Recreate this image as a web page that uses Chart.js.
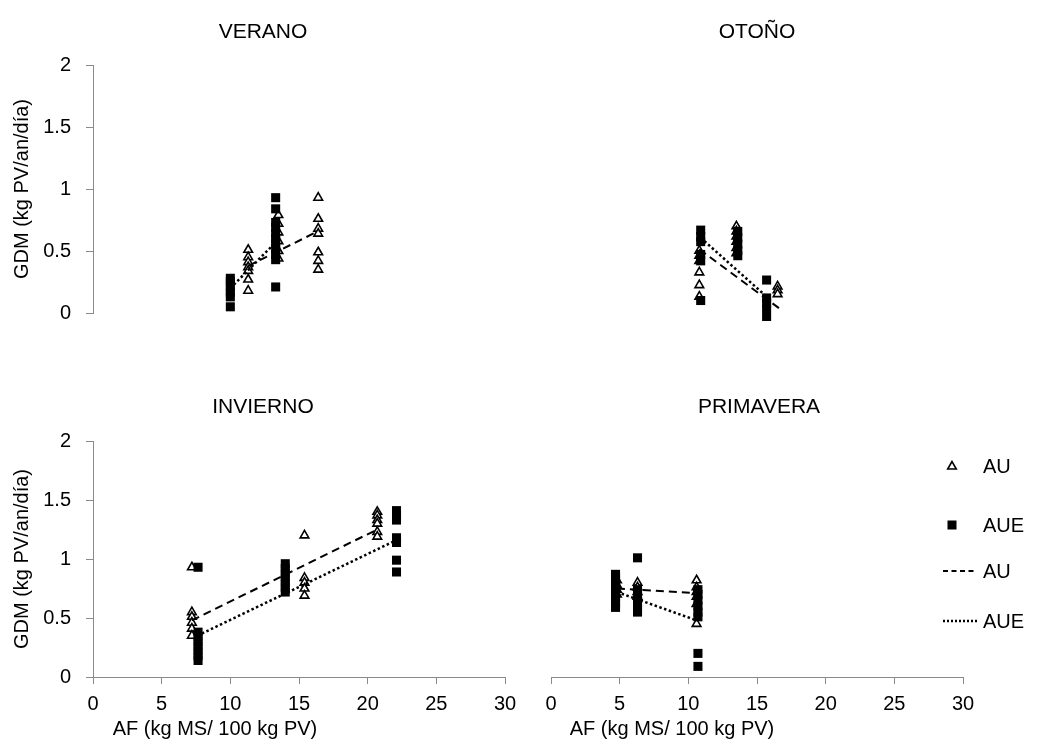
<!DOCTYPE html>
<html lang="es">
<head>
<meta charset="UTF-8">
<title>GDM vs AF por estación</title>
<style>
  body { margin: 0; background: #fff; }
  #wrap { position: relative; width: 1062px; height: 740px; overflow: hidden;
          font-family: 'Liberation Sans', Arial, sans-serif; color: #000; }
  #wrap canvas { position: absolute; }
  .lbl { position: absolute; font-size: 20px; white-space: nowrap; transform: translate(-50%, -50%); line-height: 1; }
  .ttl { font-size: 21px; }
  .leg { position: absolute; font-size: 20px; line-height: 1; transform: translateY(-50%); }
  .legsym { position: absolute; }
</style>
</head>
<body>
<div id="wrap">
  <canvas id="cVerano" width="530" height="340" style="left:0;top:0"></canvas>
  <canvas id="cOtono" width="532" height="340" style="left:530px;top:0"></canvas>
  <canvas id="cInvierno" width="530" height="400" style="left:0;top:340px"></canvas>
  <canvas id="cPrimavera" width="532" height="400" style="left:530px;top:340px"></canvas>

  <div class="lbl ttl" style="left:263px;top:30px">VERANO</div>
  <div class="lbl ttl" style="left:757px;top:30px">OTOÑO</div>
  <div class="lbl ttl" style="left:263px;top:405px">INVIERNO</div>
  <div class="lbl ttl" style="left:759px;top:405px">PRIMAVERA</div>
  <div class="lbl" style="left:215px;top:728px">AF (kg MS/ 100 kg PV)</div>
  <div class="lbl" style="left:672px;top:728px">AF (kg MS/ 100 kg PV)</div>

  <!-- leyenda -->
  <svg class="legsym" style="left:940px;top:450px" width="45" height="180">
    <polygon points="12,11.5 7.7,19 16.3,19" fill="#fff" stroke="#000" stroke-width="1.6"/>
    <rect x="7.5" y="70.5" width="9" height="9" fill="#000"/>
    <line x1="3" y1="121" x2="37" y2="121" stroke="#000" stroke-width="2" stroke-dasharray="5 3.5"/>
    <line x1="3" y1="171" x2="38" y2="171" stroke="#000" stroke-width="2.5" stroke-dasharray="2 2"/>
  </svg>
  <div class="leg" style="left:983px;top:466px">AU</div>
  <div class="leg" style="left:983px;top:525px">AUE</div>
  <div class="leg" style="left:983px;top:571px">AU</div>
  <div class="leg" style="left:983px;top:621px">AUE</div>
</div>

<script src="https://cdn.jsdelivr.net/npm/chart.js@4.4.0/dist/chart.umd.min.js"></script>
<script>
const xTicks = [0, 5, 10, 15, 20, 25, 30];
const yTicks = [0, 0.5, 1, 1.5, 2];

// VERANO
const veranoAuX = [11.3, 11.3, 11.3, 11.3, 11.3, 11.3, 11.3, 13.5, 13.5, 13.5, 13.5, 13.5, 13.5, 16.4, 16.4, 16.4, 16.4, 16.4, 16.4, 16.4];
const veranoAuY = [0.51, 0.45, 0.41, 0.37, 0.34, 0.27, 0.18, 0.79, 0.72, 0.65, 0.58, 0.50, 0.44, 0.93, 0.76, 0.68, 0.64, 0.49, 0.42, 0.35];
const veranoAueX = [10.0, 10.0, 10.0, 10.0, 10.0, 10.0, 13.3, 13.3, 13.3, 13.3, 13.3, 13.3, 13.3, 13.3, 13.3, 13.3, 13.3];
const veranoAueY = [0.28, 0.25, 0.21, 0.17, 0.13, 0.05, 0.93, 0.84, 0.73, 0.69, 0.64, 0.60, 0.56, 0.52, 0.47, 0.43, 0.21];
const veranoLineAuX = [11.3, 16.4];
const veranoLineAuY = [0.38, 0.66];
const veranoLineAueX = [10.0, 13.3];
const veranoLineAueY = [0.20, 0.57];

// OTOÑO
const otonoAuX = [10.8, 10.8, 10.8, 10.8, 10.8, 10.8, 13.5, 13.5, 13.5, 13.5, 13.5, 13.5, 16.5, 16.5, 16.5];
const otonoAuY = [0.55, 0.51, 0.47, 0.38, 0.28, 0.19, 0.74, 0.70, 0.66, 0.62, 0.57, 0.53, 0.27, 0.24, 0.21];
const otonoAueX = [10.9, 10.9, 10.9, 10.9, 10.9, 10.9, 13.6, 13.6, 13.6, 13.6, 13.6, 15.7, 15.7, 15.7, 15.7, 15.7];
const otonoAueY = [0.71, 0.66, 0.62, 0.52, 0.47, 0.16, 0.70, 0.65, 0.60, 0.55, 0.51, 0.32, 0.18, 0.14, 0.09, 0.02];
const otonoLineAuX = [10.8, 16.6];
const otonoLineAuY = [0.56, 0.10];
const otonoLineAueX = [10.9, 15.7];
const otonoLineAueY = [0.65, 0.19];

// INVIERNO
const inviernoAuX = [7.2, 7.2, 7.2, 7.2, 7.2, 7.2, 15.4, 15.4, 15.4, 15.4, 15.4, 20.7, 20.7, 20.7, 20.7, 20.7, 20.7];
const inviernoAuY = [0.93, 0.55, 0.51, 0.46, 0.41, 0.35, 1.20, 0.84, 0.80, 0.75, 0.69, 1.40, 1.37, 1.33, 1.30, 1.23, 1.19];
const inviernoAueX = [7.65, 7.65, 7.65, 7.65, 7.65, 7.65, 7.65, 7.65, 14.0, 14.0, 14.0, 14.0, 14.0, 14.0, 14.0, 22.1, 22.1, 22.1, 22.1, 22.1, 22.1, 22.1];
const inviernoAueY = [0.93, 0.38, 0.34, 0.30, 0.26, 0.22, 0.18, 0.14, 0.96, 0.92, 0.88, 0.84, 0.80, 0.76, 0.72, 1.41, 1.37, 1.33, 1.18, 1.14, 0.99, 0.89];
const inviernoLineAuX = [7.2, 20.7];
const inviernoLineAuY = [0.48, 1.25];
const inviernoLineAueX = [7.6, 22.1];
const inviernoLineAueY = [0.35, 1.16];

// PRIMAVERA
const primaveraAuX = [4.8, 4.8, 4.8, 4.8, 6.3, 6.3, 6.3, 6.3, 10.6, 10.6, 10.6, 10.6, 10.6, 10.6];
const primaveraAuY = [0.82, 0.78, 0.74, 0.70, 0.80, 0.76, 0.72, 0.68, 0.82, 0.76, 0.72, 0.68, 0.62, 0.45];
const primaveraAueX = [4.7, 4.7, 4.7, 4.7, 4.7, 4.7, 4.7, 4.7, 6.3, 6.3, 6.3, 6.3, 6.3, 6.3, 6.3, 10.7, 10.7, 10.7, 10.7, 10.7, 10.7, 10.7, 10.7];
const primaveraAueY = [0.87, 0.83, 0.79, 0.75, 0.71, 0.67, 0.63, 0.59, 1.01, 0.74, 0.70, 0.66, 0.62, 0.58, 0.55, 0.74, 0.70, 0.65, 0.60, 0.55, 0.51, 0.20, 0.09];
const primaveraLineAuX = [4.8, 10.6];
const primaveraLineAuY = [0.75, 0.71];
const primaveraLineAueX = [4.8, 10.6];
const primaveraLineAueY = [0.72, 0.48];

Chart.defaults.font.family = "'Liberation Sans', Arial, sans-serif";
Chart.defaults.font.size = 20;
Chart.defaults.color = '#000';

const axisGrey = '#8a8a8a';

function pts(xs, ys) {
    return xs.map((x, i) => ({ x: x, y: ys[i] }));
}

function makePanel(id, auX, auY, aueX, aueY, lAuX, lAuY, lAueX, lAueY, showX, showY, pad) {
    return new Chart(document.getElementById(id), {
        type: 'scatter',
        data: {
            datasets: [
                { label: 'AU', data: pts(auX, auY), pointStyle: 'triangle', pointRadius: 5,
                  pointBorderWidth: 1.6, pointBorderColor: '#000', pointBackgroundColor: '#fff', order: 4 },
                { label: 'AUE', data: pts(aueX, aueY), pointStyle: 'rect', pointRadius: 6.4,
                  pointBorderWidth: 0, pointBorderColor: '#000', pointBackgroundColor: '#000', order: 3 },
                { label: 'AU', data: pts(lAuX, lAuY), showLine: true, borderColor: '#000', borderWidth: 2,
                  borderDash: [8, 5], pointRadius: 0, fill: false, order: 2 },
                { label: 'AUE', data: pts(lAueX, lAueY), showLine: true, borderColor: '#000', borderWidth: 2.5,
                  borderDash: [2.5, 2.5], pointRadius: 0, fill: false, order: 1 }
            ]
        },
        options: {
            responsive: false,
            animation: false,
            layout: { padding: pad },
            plugins: { legend: { display: false }, tooltip: { enabled: false } },
            scales: {
                x: {
                    type: 'linear', display: showX, min: 0, max: 30,
                    afterBuildTicks: s => { s.ticks = xTicks.map(v => ({ value: v })); },
                    afterFit: s => { if (showX) s.height = 50; },
                    border: { display: true, color: axisGrey },
                    grid: { drawOnChartArea: false, tickLength: 7, color: axisGrey },
                    ticks: { padding: 8, maxRotation: 0, autoSkip: false, callback: v => String(v) }
                },
                y: {
                    type: 'linear', display: showY, min: 0, max: 2,
                    afterBuildTicks: s => { s.ticks = yTicks.map(v => ({ value: v })); },
                    afterFit: s => { if (showY) s.width = 93; },
                    border: { display: true, color: axisGrey },
                    grid: { drawOnChartArea: false, tickLength: 7, color: axisGrey },
                    ticks: { padding: 15, callback: v => String(v) },
                    title: { display: showY, text: 'GDM (kg PV/an/día)', padding: { top: 10, bottom: 0 } }
                }
            }
        }
    });
}

makePanel('cVerano', veranoAuX, veranoAuY, veranoAueX, veranoAueY,
    veranoLineAuX, veranoLineAuY, veranoLineAueX, veranoLineAueY,
    false, true, { left: 0, top: 65, right: 25, bottom: 19 });
makePanel('cOtono', otonoAuX, otonoAuY, otonoAueX, otonoAueY,
    otonoLineAuX, otonoLineAuY, otonoLineAueX, otonoLineAueY,
    false, false, { left: 21, top: 65, right: 99, bottom: 19 });
makePanel('cInvierno', inviernoAuX, inviernoAuY, inviernoAueX, inviernoAueY,
    inviernoLineAuX, inviernoLineAuY, inviernoLineAueX, inviernoLineAueY,
    true, true, { left: 0, top: 101, right: 25, bottom: 13 });
makePanel('cPrimavera', primaveraAuX, primaveraAuY, primaveraAueX, primaveraAueY,
    primaveraLineAuX, primaveraLineAuY, primaveraLineAueX, primaveraLineAueY,
    true, false, { left: 21, top: 101, right: 99, bottom: 13 });
</script>
</body>
</html>
